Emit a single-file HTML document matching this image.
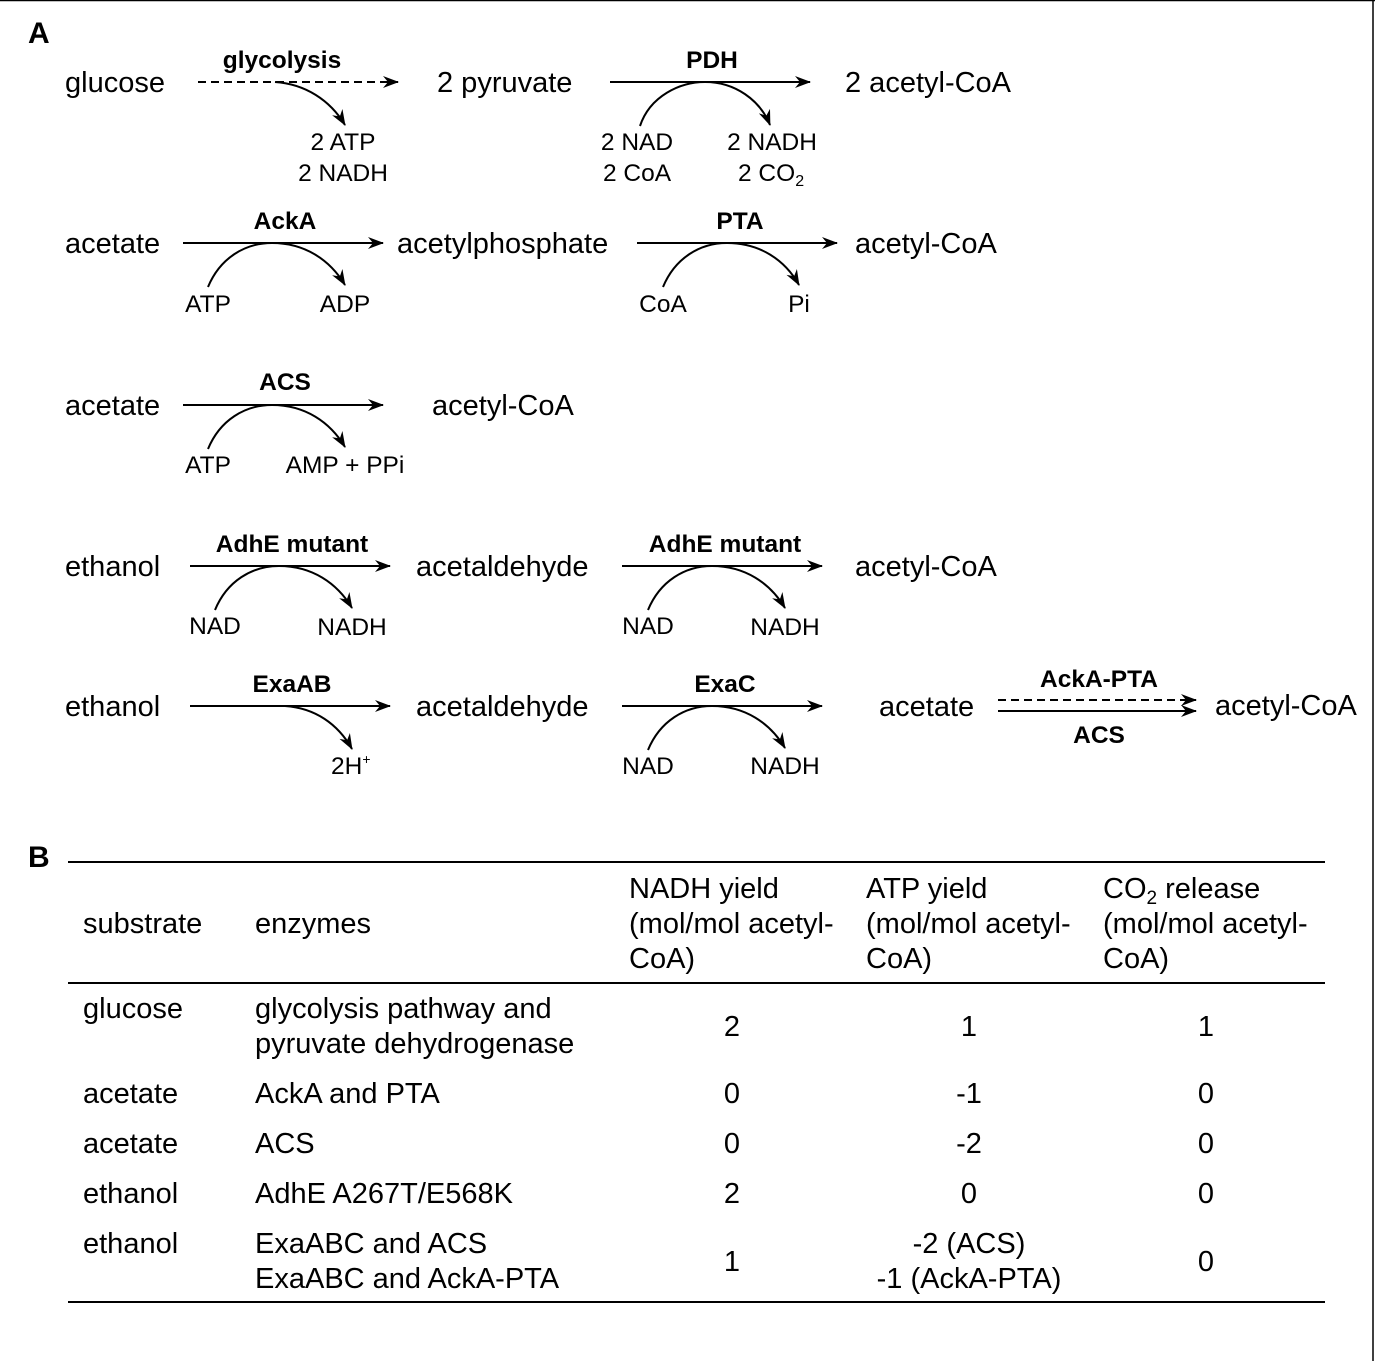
<!DOCTYPE html>
<html><head><meta charset="utf-8"><style>
html,body{margin:0;padding:0;background:#fff}
svg{display:block}
text{font-family:"Liberation Sans",Arial,sans-serif;fill:#000}
.m{font-size:29px}
.s{font-size:24.5px}
.b{font-size:24.5px;font-weight:bold}
.t{font-size:29px}
</style></head><body>
<svg width="1375" height="1361" viewBox="0 0 1375 1361" xmlns="http://www.w3.org/2000/svg">
<defs>
<marker id="ah" viewBox="0 0 16 12" refX="15" refY="6" markerWidth="16" markerHeight="12" markerUnits="userSpaceOnUse" orient="auto">
<path d="M0,0 L16,6 L0,12 L5,6 Z" fill="#000"/>
</marker>
</defs>
<line x1="0" y1="0.5" x2="1375" y2="0.5" stroke="#000" stroke-width="1.5"/>
<line x1="1373" y1="0" x2="1373" y2="1361" stroke="#000" stroke-width="1.5"/>
<g stroke="#000" stroke-width="2" fill="none">
<line x1="198" y1="82" x2="398" y2="82" stroke-dasharray="8,5" marker-end="url(#ah)"/>
<path d="M275,82 C305,84 330,100 345,125" marker-end="url(#ah)"/>
<line x1="610" y1="82" x2="810" y2="82" marker-end="url(#ah)"/>
<path d="M640,126 C650,96 680,82 705,82 C735,82 760,100 770,125" marker-end="url(#ah)"/>
<line x1="183" y1="243" x2="383" y2="243" marker-end="url(#ah)"/>
<path d="M208,287 C220,258 245,243 272,243 C305,243 330,260 345,285" marker-end="url(#ah)"/>
<line x1="637" y1="243" x2="837" y2="243" marker-end="url(#ah)"/>
<path d="M663,287 C675,258 700,243 727,243 C760,243 785,260 799,285" marker-end="url(#ah)"/>
<line x1="183" y1="405" x2="383" y2="405" marker-end="url(#ah)"/>
<path d="M208,449 C220,420 245,405 272,405 C305,405 330,422 345,447" marker-end="url(#ah)"/>
<line x1="190" y1="566" x2="390" y2="566" marker-end="url(#ah)"/>
<path d="M215,610 C227,581 252,566 279,566 C312,566 337,583 352,608" marker-end="url(#ah)"/>
<line x1="622" y1="566" x2="822" y2="566" marker-end="url(#ah)"/>
<path d="M648,610 C660,581 685,566 712,566 C745,566 770,583 785,608" marker-end="url(#ah)"/>
<line x1="190" y1="706" x2="390" y2="706" marker-end="url(#ah)"/>
<path d="M285,706 C315,708 338,724 352,749" marker-end="url(#ah)"/>
<line x1="622" y1="706" x2="822" y2="706" marker-end="url(#ah)"/>
<path d="M648,750 C660,721 685,706 712,706 C745,706 770,723 785,748" marker-end="url(#ah)"/>
<line x1="998" y1="700" x2="1196" y2="700" stroke-dasharray="8,5" marker-end="url(#ah)"/>
<line x1="998" y1="711" x2="1196" y2="711" marker-end="url(#ah)"/>
<line x1="68" y1="862" x2="1325" y2="862"/>
<line x1="68" y1="983" x2="1325" y2="983"/>
<line x1="68" y1="1302" x2="1325" y2="1302"/>
</g>
<text x="28" y="43" style="font-size:30px;font-weight:bold">A</text>
<text x="28" y="867" style="font-size:30px;font-weight:bold">B</text>

<text class="m" x="65" y="92">glucose</text>
<text class="b" x="282" y="68" text-anchor="middle">glycolysis</text>
<text class="m" x="437" y="92">2 pyruvate</text>
<text class="b" x="712" y="68" text-anchor="middle">PDH</text>
<text class="m" x="845" y="92">2 acetyl-CoA</text>
<text class="s" x="343" y="150" text-anchor="middle">2 ATP</text>
<text class="s" x="343" y="181" text-anchor="middle">2 NADH</text>
<text class="s" x="637" y="150" text-anchor="middle">2 NAD</text>
<text class="s" x="637" y="181" text-anchor="middle">2 CoA</text>
<text class="s" x="772" y="150" text-anchor="middle">2 NADH</text>
<text class="s" x="738" y="181">2 CO<tspan style="font-size:16px" dy="5">2</tspan></text>

<text class="m" x="65" y="253">acetate</text>
<text class="b" x="285" y="229" text-anchor="middle">AckA</text>
<text class="m" x="397" y="253">acetylphosphate</text>
<text class="b" x="740" y="229" text-anchor="middle">PTA</text>
<text class="m" x="855" y="253">acetyl-CoA</text>
<text class="s" x="208" y="312" text-anchor="middle">ATP</text>
<text class="s" x="345" y="312" text-anchor="middle">ADP</text>
<text class="s" x="663" y="312" text-anchor="middle">CoA</text>
<text class="s" x="799" y="312" text-anchor="middle">Pi</text>

<text class="m" x="65" y="415">acetate</text>
<text class="b" x="285" y="390" text-anchor="middle">ACS</text>
<text class="m" x="432" y="415">acetyl-CoA</text>
<text class="s" x="208" y="473" text-anchor="middle">ATP</text>
<text class="s" x="345" y="473" text-anchor="middle">AMP + PPi</text>

<text class="m" x="65" y="576">ethanol</text>
<text class="b" x="292" y="552" text-anchor="middle">AdhE mutant</text>
<text class="m" x="416" y="576">acetaldehyde</text>
<text class="b" x="725" y="552" text-anchor="middle">AdhE mutant</text>
<text class="m" x="855" y="576">acetyl-CoA</text>
<text class="s" x="215" y="634" text-anchor="middle">NAD</text>
<text class="s" x="352" y="635" text-anchor="middle">NADH</text>
<text class="s" x="648" y="634" text-anchor="middle">NAD</text>
<text class="s" x="785" y="635" text-anchor="middle">NADH</text>

<text class="m" x="65" y="716">ethanol</text>
<text class="b" x="292" y="692" text-anchor="middle">ExaAB</text>
<text class="m" x="416" y="716">acetaldehyde</text>
<text class="b" x="725" y="692" text-anchor="middle">ExaC</text>
<text class="m" x="879" y="716">acetate</text>
<text class="b" x="1099" y="687" text-anchor="middle">AckA-PTA</text>
<text class="b" x="1099" y="743" text-anchor="middle">ACS</text>
<text class="m" x="1215" y="715">acetyl-CoA</text>
<text class="s" x="331" y="774">2H<tspan style="font-size:14px" dy="-10">+</tspan></text>
<text class="s" x="648" y="774" text-anchor="middle">NAD</text>
<text class="s" x="785" y="774" text-anchor="middle">NADH</text>

<text class="t" x="83" y="933">substrate</text>
<text class="t" x="255" y="933">enzymes</text>
<text class="t" x="629" y="898">NADH yield</text>
<text class="t" x="629" y="933">(mol/mol acetyl-</text>
<text class="t" x="629" y="968">CoA)</text>
<text class="t" x="866" y="898">ATP yield</text>
<text class="t" x="866" y="933">(mol/mol acetyl-</text>
<text class="t" x="866" y="968">CoA)</text>
<text class="t" x="1103" y="898">CO<tspan style="font-size:19px" dy="6">2</tspan><tspan dy="-6"> release</tspan></text>
<text class="t" x="1103" y="933">(mol/mol acetyl-</text>
<text class="t" x="1103" y="968">CoA)</text>

<text class="t" x="83" y="1018">glucose</text>
<text class="t" x="255" y="1018">glycolysis pathway and</text>
<text class="t" x="255" y="1053">pyruvate dehydrogenase</text>
<text class="t" x="732" y="1036" text-anchor="middle">2</text>
<text class="t" x="969" y="1036" text-anchor="middle">1</text>
<text class="t" x="1206" y="1036" text-anchor="middle">1</text>

<text class="t" x="83" y="1103">acetate</text>
<text class="t" x="255" y="1103">AckA and PTA</text>
<text class="t" x="732" y="1103" text-anchor="middle">0</text>
<text class="t" x="969" y="1103" text-anchor="middle">-1</text>
<text class="t" x="1206" y="1103" text-anchor="middle">0</text>

<text class="t" x="83" y="1153">acetate</text>
<text class="t" x="255" y="1153">ACS</text>
<text class="t" x="732" y="1153" text-anchor="middle">0</text>
<text class="t" x="969" y="1153" text-anchor="middle">-2</text>
<text class="t" x="1206" y="1153" text-anchor="middle">0</text>

<text class="t" x="83" y="1203">ethanol</text>
<text class="t" x="255" y="1203">AdhE A267T/E568K</text>
<text class="t" x="732" y="1203" text-anchor="middle">2</text>
<text class="t" x="969" y="1203" text-anchor="middle">0</text>
<text class="t" x="1206" y="1203" text-anchor="middle">0</text>

<text class="t" x="83" y="1253">ethanol</text>
<text class="t" x="255" y="1253">ExaABC and ACS</text>
<text class="t" x="255" y="1288">ExaABC and AckA-PTA</text>
<text class="t" x="732" y="1271" text-anchor="middle">1</text>
<text class="t" x="969" y="1253" text-anchor="middle">-2 (ACS)</text>
<text class="t" x="969" y="1288" text-anchor="middle">-1 (AckA-PTA)</text>
<text class="t" x="1206" y="1271" text-anchor="middle">0</text>
</svg>
</body></html>
